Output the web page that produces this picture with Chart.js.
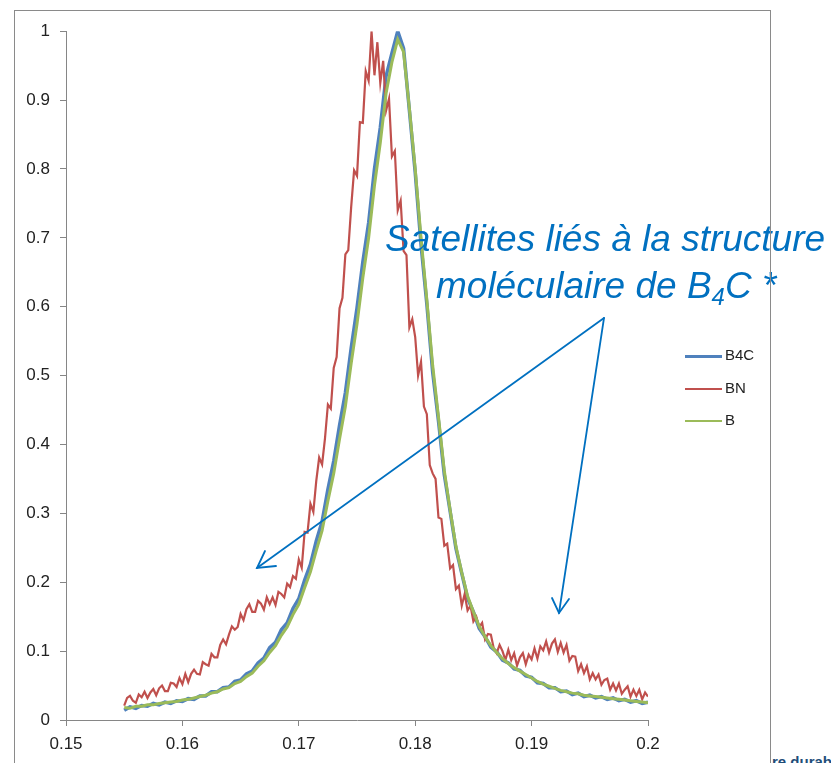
<!DOCTYPE html>
<html>
<head>
<meta charset="utf-8">
<script src="https://cdn.jsdelivr.net/npm/chart.js@4.4.0/dist/chart.umd.min.js"></script>
<style>
html, body { margin: 0; padding: 0; background: #fff; width: 831px; height: 763px; overflow: hidden; position: relative; }
#frame { position: absolute; left: 14px; top: 10px; width: 757px; height: 800px; border: 1px solid #8a8a8a; box-sizing: border-box; z-index: 3; pointer-events: none; }
#wrap { position: absolute; left: 15px; top: 11px; width: 753px; height: 790px; }
.note { position: absolute; font-family: "Liberation Sans", Arial, sans-serif; font-style: italic; font-size: 37px; color: #0070c0; white-space: nowrap; z-index: 2; }
.note sub { font-size: 24px; vertical-align: -7px; line-height: 0; }
#legend { position: absolute; left: 685px; top: 344px; font-family: "Liberation Sans", Arial, sans-serif; font-size: 15px; color: #222; }
#legend div { position: relative; height: 32.5px; }
#legend span.l { position: absolute; left: 0; width: 37px; top: 11px; }
#legend span.t { position: absolute; left: 40px; top: 2px; }
#arrows { position: absolute; left: 0; top: 0; z-index: 2; }
#bg { position: absolute; left: 772px; top: 753px; font-family: "Liberation Sans", Arial, sans-serif; font-weight: bold; font-size: 15px; color: #1f4e79; white-space: nowrap; }
</style>
</head>
<body>
<div id="wrap"><canvas id="chart"></canvas></div>
<div id="frame"></div>
<div id="bg">re durable</div>

<div id="legend">
  <div><span class="l" style="border-top:3.5px solid #4f81bd"></span><span class="t">B4C</span></div>
  <div><span class="l" style="border-top:2px solid #c0504d"></span><span class="t">BN</span></div>
  <div><span class="l" style="border-top:2.5px solid #9bbb59"></span><span class="t">B</span></div>
</div>

<div class="note" style="left:385px; top:218px;">Satellites liés à la structure</div>
<div class="note" style="left:436px; top:265px;">moléculaire de B<sub>4</sub>C *</div>

<svg id="arrows" width="831" height="763">
  <g stroke="#0070c0" stroke-width="1.8" fill="none" stroke-linecap="round">
    <line x1="604" y1="318" x2="257" y2="568"/>
    <polyline points="265,551 257,568 276,566"/>
    <line x1="604" y1="318" x2="559" y2="613"/>
    <polyline points="552,598 559,613 569,599"/>
  </g>
</svg>

<script>
// BN sampled every 0.00025
const xFine = [
  0.155,0.15525,0.1555,0.15575,0.156,0.15625,0.1565,0.15675,0.157,0.15725,0.1575,0.15775,0.158,0.15825,0.1585,0.15875,0.159,0.15925,0.1595,0.15975,
  0.16,0.16025,0.1605,0.16075,0.161,0.16125,0.1615,0.16175,0.162,0.16225,0.1625,0.16275,0.163,0.16325,0.1635,0.16375,0.164,0.16425,0.1645,0.16475,
  0.165,0.16525,0.1655,0.16575,0.166,0.16625,0.1665,0.16675,0.167,0.16725,0.1675,0.16775,0.168,0.16825,0.1685,0.16875,0.169,0.16925,0.1695,0.16975,
  0.17,0.17025,0.1705,0.17075,0.171,0.17125,0.1715,0.17175,0.172,0.17225,0.1725,0.17275,0.173,0.17325,0.1735,0.17375,0.174,0.17425,0.1745,0.17475,
  0.175,0.17525,0.1755,0.17575,0.176,0.17625,0.1765,0.17675,0.177,0.17725,0.1775,0.17775,0.178,0.17825,0.1785,0.17875,0.179,0.17925,0.1795,0.17975,
  0.18,0.18025,0.1805,0.18075,0.181,0.18125,0.1815,0.18175,0.182,0.18225,0.1825,0.18275,0.183,0.18325,0.1835,0.18375,0.184,0.18425,0.1845,0.18475,
  0.185,0.18525,0.1855,0.18575,0.186,0.18625,0.1865,0.18675,0.187,0.18725,0.1875,0.18775,0.188,0.18825,0.1885,0.18875,0.189,0.18925,0.1895,0.18975,
  0.19,0.19025,0.1905,0.19075,0.191,0.19125,0.1915,0.19175,0.192,0.19225,0.1925,0.19275,0.193,0.19325,0.1935,0.19375,0.194,0.19425,0.1945,0.19475,
  0.195,0.19525,0.1955,0.19575,0.196,0.19625,0.1965,0.19675,0.197,0.19725,0.1975,0.19775,0.198,0.19825,0.1985,0.19875,0.199,0.19925,0.1995,0.19975,
  0.2
];
const bnValues = [
  0.021,0.032,0.035,0.028,0.025,0.037,0.033,0.041,0.032,0.040,0.045,0.036,0.046,0.050,0.042,0.042,0.054,0.053,0.048,0.061,
  0.052,0.067,0.055,0.067,0.073,0.067,0.066,0.084,0.081,0.079,0.096,0.091,0.091,0.109,0.117,0.110,0.124,0.136,0.131,0.135,
  0.154,0.145,0.161,0.168,0.157,0.157,0.173,0.169,0.160,0.178,0.168,0.178,0.167,0.186,0.183,0.178,0.198,0.193,0.209,0.205,
  0.233,0.221,0.273,0.272,0.314,0.302,0.347,0.381,0.371,0.409,0.458,0.452,0.511,0.527,0.598,0.613,0.676,0.682,0.745,0.798,
  0.790,0.868,0.867,0.942,0.928,1.0,0.936,0.984,0.925,0.957,0.885,0.902,0.818,0.826,0.740,0.754,0.681,0.675,0.570,0.582,
  0.556,0.500,0.520,0.455,0.444,0.370,0.358,0.350,0.294,0.292,0.253,0.256,0.220,0.225,0.190,0.195,0.166,0.183,0.159,0.166,
  0.143,0.150,0.135,0.141,0.117,0.125,0.124,0.104,0.097,0.109,0.100,0.087,0.102,0.087,0.097,0.079,0.091,0.097,0.081,0.095,
  0.088,0.104,0.089,0.107,0.101,0.114,0.098,0.111,0.117,0.099,0.112,0.098,0.109,0.086,0.093,0.092,0.071,0.081,0.068,0.078,
  0.059,0.068,0.059,0.066,0.051,0.058,0.060,0.044,0.053,0.043,0.053,0.038,0.044,0.049,0.034,0.044,0.035,0.044,0.030,0.040,
  0.034
];

// B4C and B sampled every 0.0005
const xCoarse = [
  0.155,0.1555,0.156,0.1565,0.157,0.1575,0.158,0.1585,0.159,0.1595,
  0.16,0.1605,0.161,0.1615,0.162,0.1625,0.163,0.1635,0.164,0.1645,
  0.165,0.1655,0.166,0.1665,0.167,0.1675,0.168,0.1685,0.169,0.1695,
  0.17,0.1705,0.171,0.1715,0.172,0.1725,0.173,0.1735,0.174,0.1745,
  0.175,0.1755,0.176,0.1765,0.177,0.1775,0.178,0.1785,0.179,0.1795,
  0.18,0.1805,0.181,0.1815,0.182,0.1825,0.183,0.1835,0.184,0.1845,
  0.185,0.1855,0.186,0.1865,0.187,0.1875,0.188,0.1885,0.189,0.1895,
  0.19,0.1905,0.191,0.1915,0.192,0.1925,0.193,0.1935,0.194,0.1945,
  0.195,0.1955,0.196,0.1965,0.197,0.1975,0.198,0.1985,0.199,0.1995,
  0.2
];
const b4cValues = [
  0.014,0.019,0.017,0.021,0.020,0.024,0.022,0.026,0.024,0.028,
  0.027,0.031,0.030,0.035,0.035,0.041,0.041,0.047,0.048,0.056,
  0.058,0.067,0.071,0.083,0.090,0.105,0.113,0.131,0.141,0.162,
  0.176,0.203,0.226,0.260,0.288,0.335,0.376,0.428,0.475,0.540,
  0.598,0.665,0.722,0.800,0.860,0.935,0.968,1.0,0.975,0.885,
  0.795,0.690,0.604,0.505,0.434,0.356,0.303,0.249,0.213,0.177,
  0.157,0.133,0.121,0.106,0.099,0.087,0.083,0.074,0.072,0.064,
  0.062,0.054,0.053,0.047,0.047,0.041,0.042,0.037,0.039,0.034,
  0.036,0.032,0.034,0.030,0.032,0.028,0.030,0.026,0.028,0.024,
  0.026
];
const bValues = [
  0.018,0.017,0.020,0.020,0.022,0.022,0.024,0.025,0.026,0.027,
  0.029,0.030,0.032,0.034,0.036,0.039,0.041,0.045,0.047,0.053,
  0.056,0.063,0.068,0.078,0.086,0.098,0.108,0.123,0.135,0.153,
  0.168,0.192,0.215,0.246,0.275,0.318,0.358,0.408,0.455,0.518,
  0.575,0.642,0.700,0.776,0.838,0.910,0.955,0.988,0.970,0.888,
  0.800,0.700,0.610,0.515,0.440,0.362,0.305,0.252,0.214,0.180,
  0.157,0.136,0.121,0.108,0.098,0.089,0.082,0.076,0.071,0.066,
  0.061,0.056,0.052,0.049,0.046,0.043,0.041,0.039,0.038,0.036,
  0.035,0.034,0.033,0.032,0.031,0.030,0.029,0.028,0.027,0.026,
  0.025
];

const xTicks = [0.15, 0.16, 0.17, 0.18, 0.19, 0.2];
const yTicks = [0, 0.1, 0.2, 0.3, 0.4, 0.5, 0.6, 0.7, 0.8, 0.9, 1];

const seriesNames = ["B4C", "BN", "B"];

const tickFont = { family: '"Liberation Sans", Arial, sans-serif', size: 17 };
const axisGrey = "#868686";

const pairs = (xs, ys) => xs.map((x, i) => ({ x: x, y: ys[i] }));

new Chart(document.getElementById("chart").getContext("2d"), {
  type: "line",
  data: {
    datasets: [
      { label: seriesNames[0], data: pairs(xCoarse, b4cValues), borderColor: "#4f81bd", borderWidth: 3.5, order: 3 },
      { label: seriesNames[1], data: pairs(xFine, bnValues), borderColor: "#c0504d", borderWidth: 2.2, order: 2 },
      { label: seriesNames[2], data: pairs(xCoarse, bValues), borderColor: "#9bbb59", borderWidth: 3, order: 1 }
    ]
  },
  options: {
    responsive: true,
    maintainAspectRatio: false,
    animation: false,
    layout: { padding: { left: 0, top: 19, right: 120, bottom: 0 } },
    elements: { point: { radius: 0 }, line: { tension: 0, fill: false } },
    plugins: { legend: { display: false }, tooltip: { enabled: false } },
    scales: {
      x: {
        type: "linear",
        min: 0.15,
        max: 0.2,
        afterBuildTicks: (s) => { s.ticks = xTicks.map(v => ({ value: v })); },
        afterFit: (s) => { s.height = 81; },
        grid: { drawOnChartArea: false, drawTicks: true, tickLength: 6, color: axisGrey },
        border: { display: true, color: axisGrey, width: 1 },
        ticks: { font: tickFont, color: "#222", padding: 8, maxRotation: 0, callback: (v) => String(v) }
      },
      y: {
        type: "linear",
        min: 0,
        max: 1,
        afterBuildTicks: (s) => { s.ticks = yTicks.map(v => ({ value: v })); },
        afterFit: (s) => { s.width = 51; },
        grid: { drawOnChartArea: false, drawTicks: true, tickLength: 6, color: axisGrey },
        border: { display: true, color: axisGrey, width: 1 },
        ticks: { font: tickFont, color: "#222", padding: 10, callback: (v) => String(v) }
      }
    }
  }
});
</script>
</body>
</html>
